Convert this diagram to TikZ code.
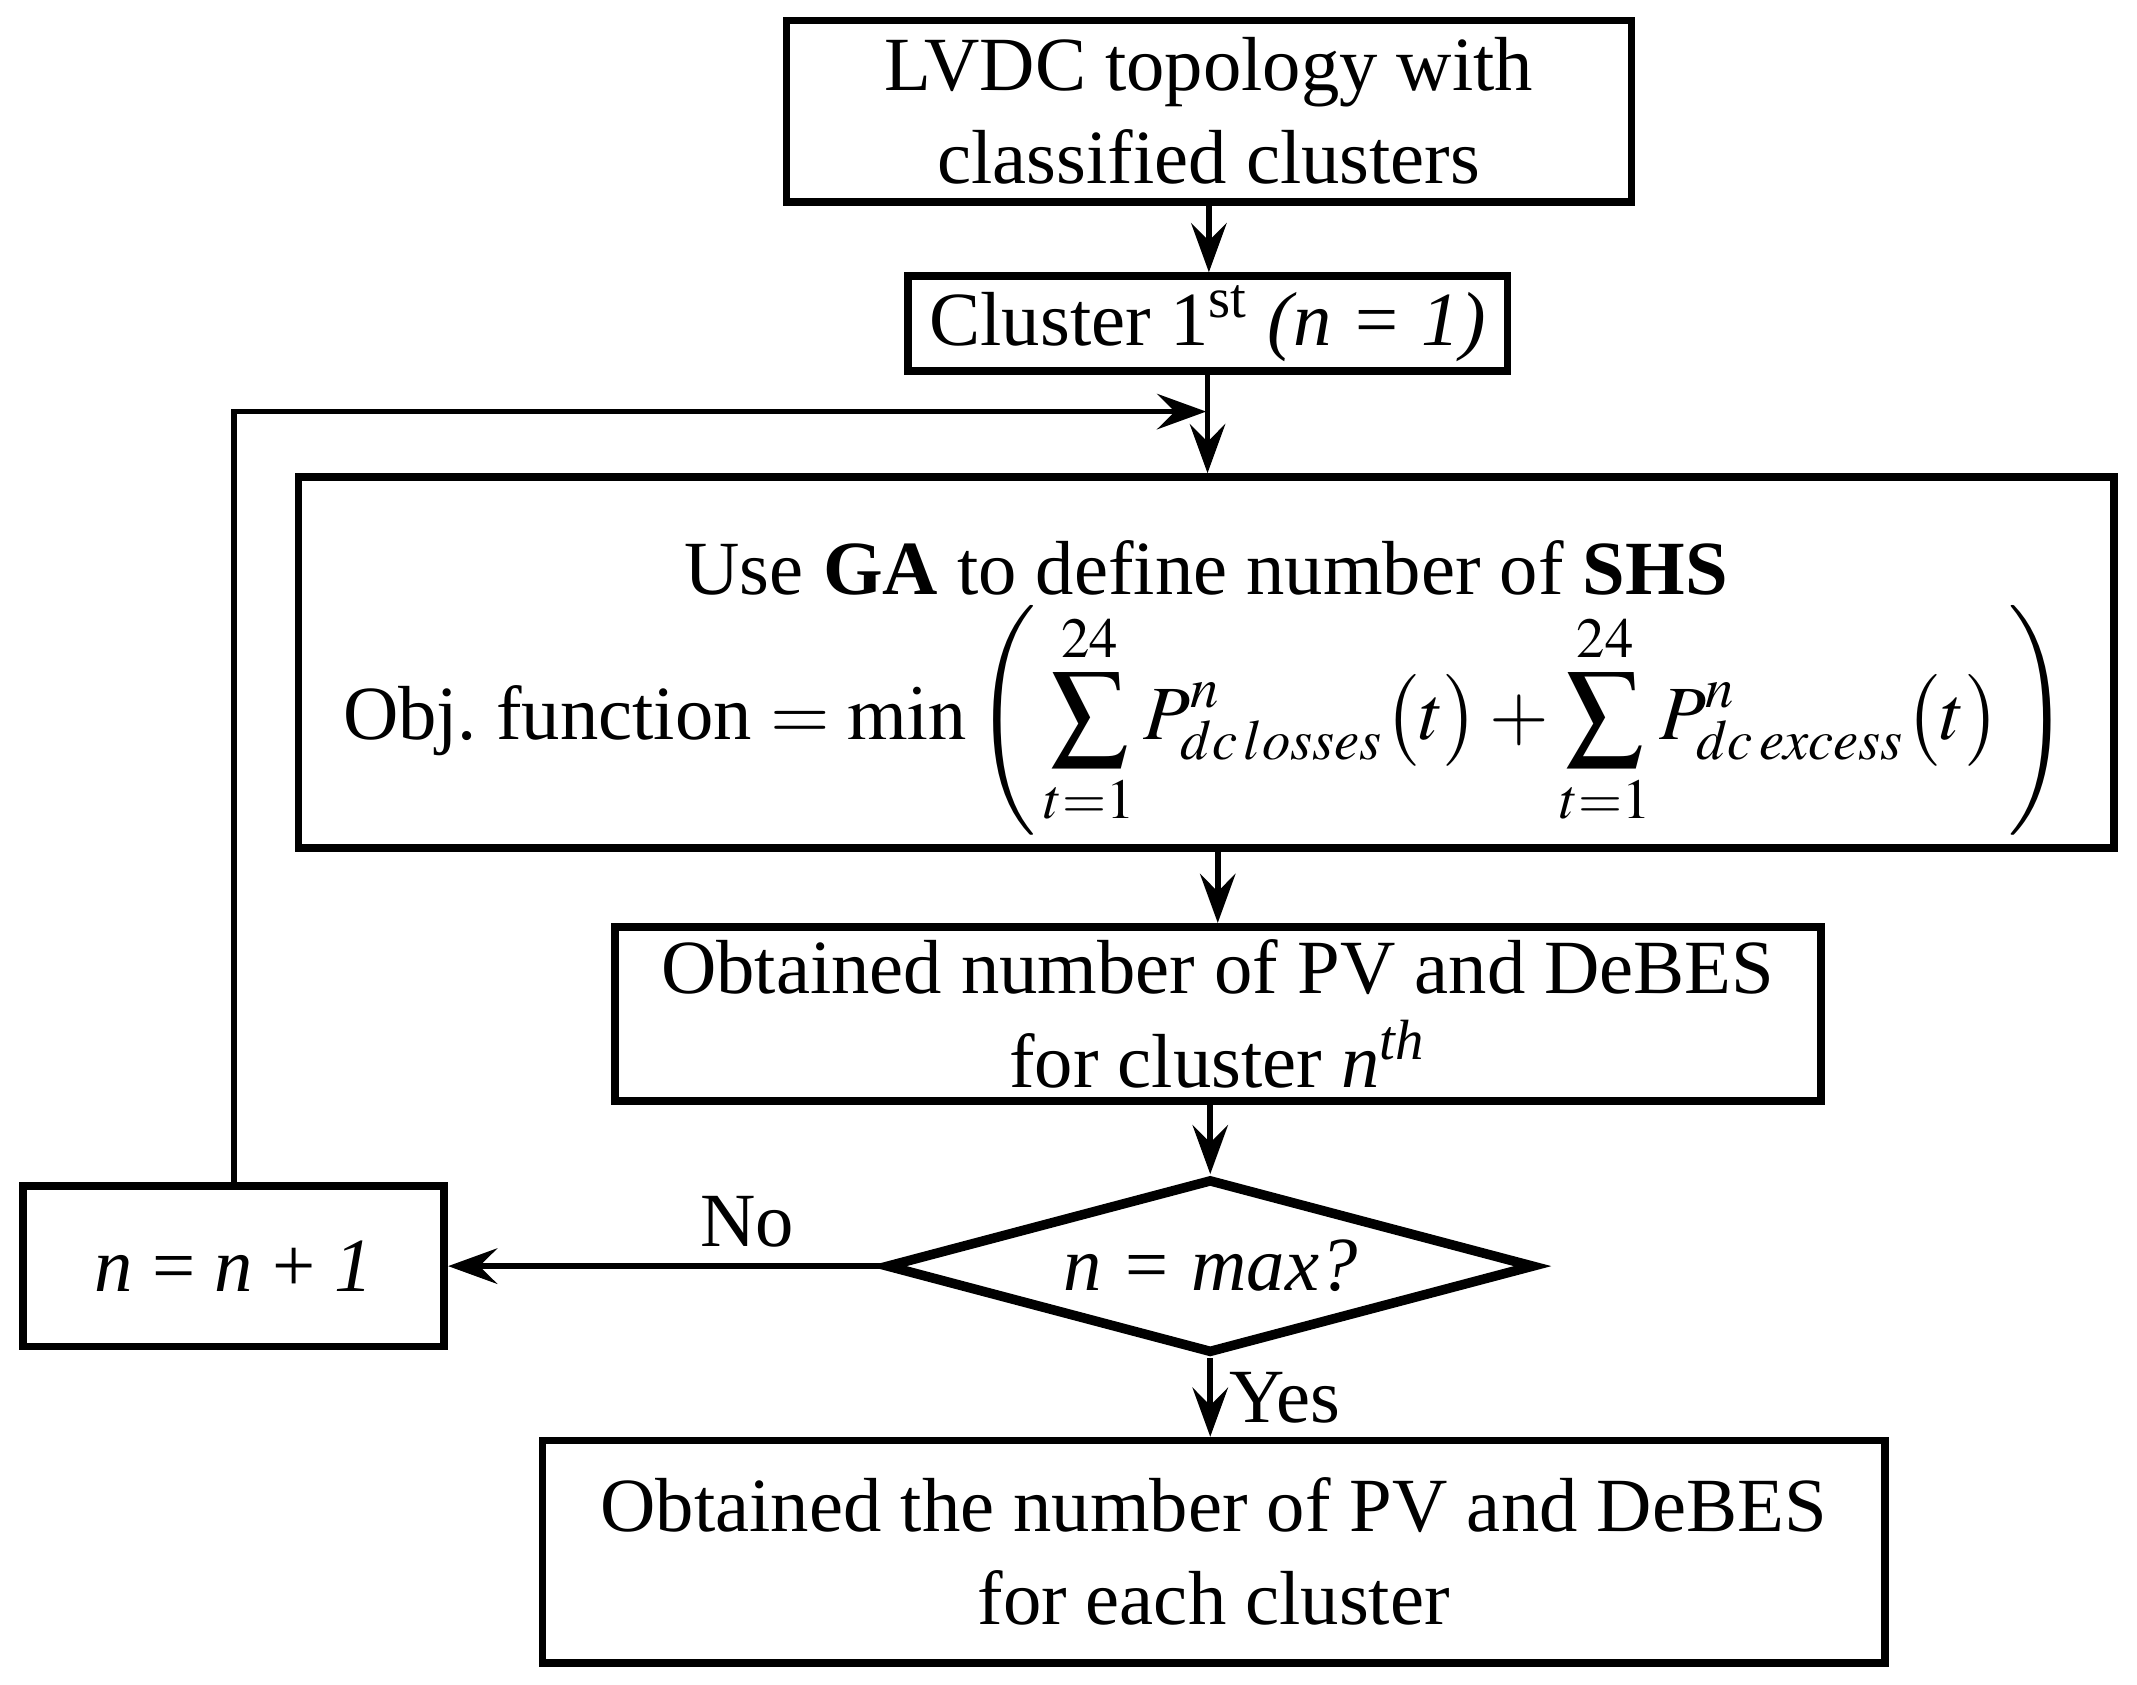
\documentclass[tikz,border=0pt]{standalone}
\usepackage{mathptmx}
\usepackage[no-math]{fontspec}
\setmainfont{Liberation Serif}
\usetikzlibrary{shapes.geometric,arrows.meta}

\begin{document}
\begin{tikzpicture}[
 box/.style={draw, line width=1.6pt, align=center, inner sep=2pt, font=\fontsize{16}{19.5}\selectfont},
 decision/.style={draw, diamond, aspect=3.7, line width=2pt, inner sep=0pt, font=\fontsize{16}{19.5}\selectfont},
 link/.style={line width=1.2pt, -{Stealth[length=0.36cm,width=0.26cm,inset=0.13cm]}},
 tag/.style={font=\fontsize{16}{19.5}\selectfont}
]
\useasboundingbox (0,0) rectangle (15.68,-12.36);
\node[box, minimum width=6.20cm, minimum height=1.33cm] (topo) at (8.87,-0.815) {LVDC topology with\\classified clusters};
\node[box, minimum width=4.40cm, minimum height=0.65cm] (first) at (8.86,-2.375) {Cluster 1\textsuperscript{st} \textit{(n = 1)}};
\node[box, minimum width=13.32cm, minimum height=2.72cm, text depth=0.33cm] (ga) at (8.85,-4.86) {Use \textbf{GA} to define number of \textbf{SHS}\\[0.04cm]
 Obj.\ function $= \displaystyle\min\left(\,\sum_{t=1}^{24} P^{n}_{dc\,losses}\bigl(t\bigr)+\sum_{t=1}^{24} P^{n}_{dc\,excess}\bigl(t\bigr)\,\right)$};
\node[box, minimum width=8.85cm, minimum height=1.28cm] (pvnum) at (8.935,-7.44) {Obtained number of PV and DeBES\\for cluster \textit{n}\textsuperscript{\textit{th}}};
\node[decision, minimum width=4.76cm, minimum height=1.28cm] (check) at (8.88,-9.29) {\textit{n = max?}};
\node[box, minimum width=3.09cm, minimum height=1.18cm] (next) at (1.715,-9.29) {\textit{n} = \textit{n} + \textit{1}};
\node[box, minimum width=9.85cm, minimum height=1.63cm] (result) at (8.905,-11.385) {Obtained the number of PV and DeBES\\for each cluster};
\coordinate (join) at (8.85,-3.02);

\draw[link] (topo.south) -- (topo.south |- first.north);
\draw[link] (first.south) -- (first.south |- ga.north);
\draw[link] (next.north) |- (join);
\draw[link] (pvnum.north |- ga.south) -- (pvnum.north);
\draw[link] (check.north |- pvnum.south) -- (check.north);
\draw[link] (check.west) -- node[tag, above, pos=0.31] (no) {No} (next.east);
\draw[link] (check.south) -- node[tag, right] (yes) {Yes} (check.south |- result.north);
\end{tikzpicture}
\end{document}
